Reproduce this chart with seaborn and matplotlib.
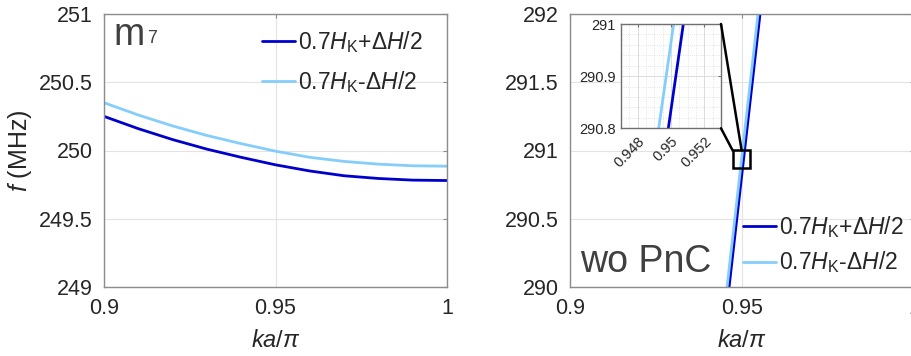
import numpy as np
import matplotlib
matplotlib.use('Agg')
import matplotlib.pyplot as plt
import seaborn as sns
from matplotlib.ticker import FuncFormatter, MultipleLocator
from matplotlib.patches import Rectangle, ConnectionPatch

# left panel: m7 band, f(ka)
ka_left = [0.90, 0.91, 0.92, 0.93, 0.94, 0.95, 0.96, 0.97, 0.98, 0.99, 1.00]
f_plus = [250.25, 250.16, 250.08, 250.01, 249.95, 249.895, 249.85, 249.815, 249.795, 249.783, 249.78]
f_minus = [250.35, 250.26, 250.18, 250.11, 250.05, 249.995, 249.95, 249.92, 249.90, 249.888, 249.885]

# right panel: wo PnC, nearly vertical band
f_right = [290.0, 290.5, 290.8, 291.0, 291.5, 292.0]
ka_plus_r = [0.94624, 0.94849, 0.94984, 0.95074, 0.95299, 0.95524]
ka_minus_r = [0.94566, 0.94791, 0.94926, 0.95016, 0.95241, 0.95466]

labels = [r'0.7$\mathit{H}_{\mathrm{K}}$+$\mathit{\Delta H}$/2',
          r'0.7$\mathit{H}_{\mathrm{K}}$-$\mathit{\Delta H}$/2']
dark = '#0000cc'
light = '#85cdfb'
txt = '#262626'

sns.set_style('white')
plt.rcParams['font.family'] = ['Liberation Sans', 'DejaVu Sans']
plt.rcParams['mathtext.fontset'] = 'custom'
plt.rcParams['mathtext.rm'] = 'Liberation Sans'
plt.rcParams['mathtext.it'] = 'Liberation Sans:italic'
plt.rcParams['mathtext.bf'] = 'Liberation Sans:bold'

fig = plt.figure(figsize=(9.11, 3.56), dpi=100)
ax1 = fig.add_axes([104/911, 69/356, 343/911, 273/356])
ax2 = fig.add_axes([570/911, 69/356, 344/911, 273/356])

fmt = FuncFormatter(lambda v, p: '%g' % round(v, 6))


def style(ax):
    for s in ax.spines.values():
        s.set_color('#8c8c8c')
        s.set_linewidth(1.0)
    ax.grid(True, color='#e3e3e3', linewidth=0.8)
    ax.set_axisbelow(True)
    ax.tick_params(direction='in', length=3, color='#8c8c8c', labelsize=15.5,
                   labelcolor=txt, top=True, right=True, pad=8)
    ax.xaxis.set_major_formatter(fmt)
    ax.yaxis.set_major_formatter(fmt)


leg_kw = dict(frameon=False, fontsize=16.5, handlelength=1.45, handletextpad=0.1,
              borderpad=0, borderaxespad=0, loc='center left', bbox_transform=fig.transFigure)

sns.lineplot(x=ka_left, y=f_plus, ax=ax1, color=dark, linewidth=2, label=labels[0])
sns.lineplot(x=ka_left, y=f_minus, ax=ax1, color=light, linewidth=2, label=labels[1])
ax1.set_xlim(0.9, 1.0)
ax1.set_ylim(249, 251)
ax1.set_xticks([0.9, 0.95, 1.0])
ax1.set_yticks([249, 249.5, 250, 250.5, 251])
style(ax1)
ax1.set_xlabel(r'$\mathit{ka/\pi}$', fontsize=17, color=txt, labelpad=8)
ax1.set_ylabel(r'$\mathit{f}$ (MHz)', fontsize=18, color=txt)
ax1.yaxis.set_label_coords(-0.205, 0.5)
ax1.legend(bbox_to_anchor=(262/911, 1 - 62/356), labelspacing=0.6, **leg_kw)
fig.text(113/911, 1 - 45/356, 'm', fontsize=27, color='#404040', va='baseline')
fig.text(147/911, 1 - 43/356, '7', fontsize=13, color='#404040', va='baseline')

sns.lineplot(x=ka_plus_r, y=f_right, ax=ax2, color=dark, linewidth=2, sort=False, label=labels[0])
sns.lineplot(x=ka_minus_r, y=f_right, ax=ax2, color=light, linewidth=2, sort=False, label=labels[1])
ax2.set_xlim(0.9, 1.0)
ax2.set_ylim(290, 292)
ax2.set_xticks([0.9, 0.95, 1.0])
ax2.set_yticks([290, 290.5, 291, 291.5, 292])
style(ax2)
ax2.set_xlabel(r'$\mathit{ka/\pi}$', fontsize=17, color=txt, labelpad=8)
ax2.legend(bbox_to_anchor=(743/911, 1 - 245/356), labelspacing=0.4, **leg_kw)
fig.text(580/911, 1 - 272/356, 'wo PnC', fontsize=27, color='#404040', va='baseline')

# zoom box on the main axes
ax2.add_patch(Rectangle((0.9473, 290.875), 0.005, 0.128, fill=False, edgecolor='black',
                        linewidth=1.8, zorder=5))

# inset
axi = fig.add_axes([621/911, 1 - 128.3/356, 100/911, 104.3/356])
sns.lineplot(x=ka_plus_r, y=f_right, ax=axi, color=dark, linewidth=2, sort=False, legend=False)
sns.lineplot(x=ka_minus_r, y=f_right, ax=axi, color=light, linewidth=2, sort=False, legend=False)
axi.set_xlim(0.947, 0.953)
axi.set_ylim(290.8, 291.0)
axi.set_xticks([0.948, 0.95, 0.952])
axi.set_yticks([290.8, 290.9, 291.0])
axi.xaxis.set_minor_locator(MultipleLocator(0.0005))
axi.yaxis.set_minor_locator(MultipleLocator(0.02))
axi.grid(True, which='major', color='#dcdcdc', linewidth=0.7)
axi.grid(True, which='minor', color='#dcdcdc', linewidth=0.6, linestyle=':')
axi.set_facecolor('white')
for s in axi.spines.values():
    s.set_color('#707070')
    s.set_linewidth(1.0)
axi.tick_params(which='both', direction='in', length=2, color='#707070', labelsize=10.5,
                labelcolor=txt, top=True, right=True, pad=4)
axi.tick_params(which='minor', length=0)
axi.xaxis.set_major_formatter(fmt)
axi.yaxis.set_major_formatter(fmt)
for lab in axi.get_xticklabels():
    lab.set_rotation(45)
    lab.set_ha('right')
    lab.set_rotation_mode('anchor')
axi.set_xlabel('')
axi.set_ylabel('')

for xy_in, xy_main in [((1, 1), (0.9499, 291.0)), ((1, 0), (0.9473, 291.0))]:
    con = ConnectionPatch(xyA=xy_in, coordsA=axi.transAxes, xyB=xy_main, coordsB=ax2.transData,
                          color='black', linewidth=1.8, zorder=6)
    fig.add_artist(con)

fig.savefig('out.png', dpi=100)
